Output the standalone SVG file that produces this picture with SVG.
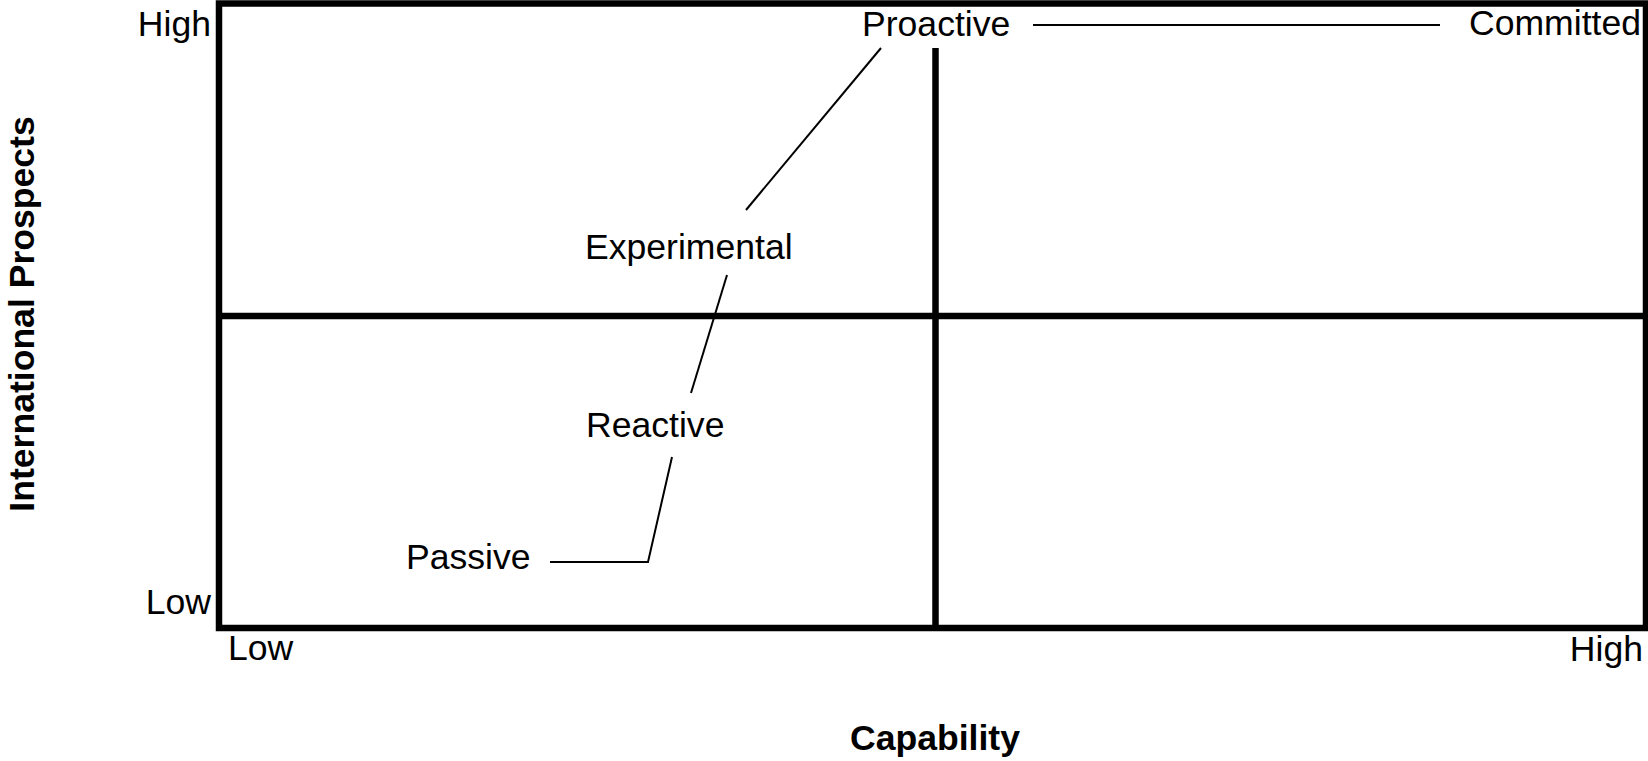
<svg xmlns="http://www.w3.org/2000/svg" width="1648" height="761" viewBox="0 0 1648 761">
  <style>
    .lbl { font-family: "Liberation Sans", Arial, sans-serif; font-size: 35.6px; fill: #000; }
    .axis { font-family: "Liberation Sans", Arial, sans-serif; font-size: 35.6px; font-weight: bold; fill: #000; }
    .frame { fill: none; stroke: #000; stroke-width: 6.5; }
    .conn { fill: none; stroke: #000; stroke-width: 2; }
  </style>
  <rect width="1648" height="761" fill="#fff"/>
  <g id="grid">
    <rect class="frame" x="219" y="3.5" width="1427" height="624.5"/>
    <line class="frame" x1="219" y1="316" x2="1646" y2="316"/>
    <line class="frame" x1="935.5" y1="48" x2="935.5" y2="628"/>
  </g>
  <g id="axis-labels">
    <text class="lbl" x="211" y="36" text-anchor="end">High</text>
    <text class="lbl" x="211" y="614" text-anchor="end">Low</text>
    <text class="lbl" x="228" y="660">Low</text>
    <text class="lbl" x="1643" y="661" text-anchor="end">High</text>
    <text class="axis" x="935" y="750" text-anchor="middle">Capability</text>
    <text class="axis" transform="translate(34,314) rotate(-90)" text-anchor="middle">International Prospects</text>
  </g>
  <g id="connectors">
    <line class="conn" x1="1033" y1="25" x2="1440" y2="25"/>
    <line class="conn" x1="881" y1="48" x2="746" y2="210"/>
    <line class="conn" x1="727" y1="275" x2="691" y2="393"/>
    <polyline class="conn" points="672,457 648,562 550,562"/>
  </g>
  <g id="node-proactive"><text class="lbl" x="862" y="36">Proactive</text></g>
  <g id="node-committed"><text class="lbl" x="1641" y="35" text-anchor="end">Committed</text></g>
  <g id="node-experimental"><text class="lbl" x="585" y="259">Experimental</text></g>
  <g id="node-reactive"><text class="lbl" x="586" y="437">Reactive</text></g>
  <g id="node-passive"><text class="lbl" x="406" y="569">Passive</text></g>
</svg>
